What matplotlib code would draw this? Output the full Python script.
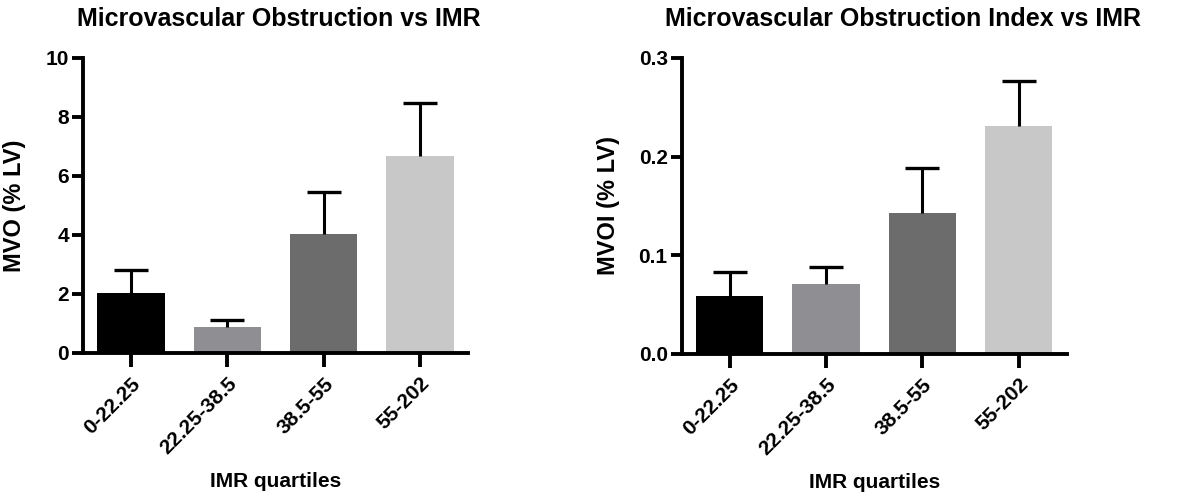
import matplotlib
matplotlib.use("Agg")
import matplotlib.pyplot as plt

categories = ["0-22.25", "22.25-38.5", "38.5-55", "55-202"]
mvo_mean = [2.04, 0.89, 4.03, 6.68]
mvo_err = [0.77, 0.23, 1.43, 1.79]
mvoi_mean = [0.059, 0.071, 0.143, 0.231]
mvoi_err = [0.024, 0.017, 0.045, 0.046]
colors = ["#000000", "#8f8f93", "#6c6c6c", "#c8c8c8"]

plt.rcParams['font.family'] = ['Liberation Sans', 'DejaVu Sans']
plt.rcParams['font.weight'] = 'bold'

fig = plt.figure(figsize=(12, 4.99), dpi=100)

def panel(rect, means, errs, title, ylabel, ylim, yticks, yfmt, title_x, ylabel_x):
    ax = fig.add_axes(rect)
    x = list(range(len(categories)))
    ax.bar(x, means, width=0.7, color=colors, zorder=2)
    tops = [m + e for m, e in zip(means, errs)]
    ax.errorbar(x, means, yerr=[[0] * len(errs), errs], fmt='none', ecolor='black',
                elinewidth=2.2, capsize=0, zorder=3)
    ax.plot(x, tops, linestyle='none', marker='_', markersize=24,
            markeredgewidth=2.4, color='black', zorder=3)
    ax.set_xlim(-0.5, 3.5)
    ax.set_ylim(*ylim)
    ax.set_yticks(yticks)
    ax.set_yticklabels([yfmt.format(v) for v in yticks], fontsize=15, fontweight='bold')
    ax.set_xticks(x)
    ax.set_xticklabels(categories, rotation=45, ha='right', rotation_mode='anchor',
                       fontsize=15, fontweight='bold')
    for s in ['top', 'right']:
        ax.spines[s].set_visible(False)
    for s in ['left', 'bottom']:
        ax.spines[s].set_linewidth(2.8)
    ax.spines['left'].set_zorder(4)
    ax.tick_params(axis='y', length=8, width=2.8, pad=2)
    ax.tick_params(axis='x', length=10, width=2.8, pad=5)
    ax.set_ylabel(ylabel, fontsize=17, fontweight='bold', va='center')
    ax.yaxis.set_label_coords(ylabel_x, 0.5)
    ax.set_xlabel("IMR quartiles", fontsize=15, fontweight='bold', labelpad=10)
    fig.text(title_x, 0.962, title, ha='center', va='center', fontsize=18, fontweight='bold')
    return ax

panel([0.069, 0.2926, 0.321, 0.5912], mvo_mean, mvo_err,
      "Microvascular Obstruction vs IMR", "MVO (% LV)", (0, 10), [0, 2, 4, 6, 8, 10], "{:g}",
      0.2325, (15 - 83) / 385)
panel([0.568, 0.2906, 0.321, 0.5932], mvoi_mean, mvoi_err,
      "Microvascular Obstruction Index vs IMR", "MVOI (% LV)", (0, 0.3), [0.0, 0.1, 0.2, 0.3], "{:.1f}",
      0.7525, (609 - 682) / 385)

fig.savefig("out.png", dpi=100)
